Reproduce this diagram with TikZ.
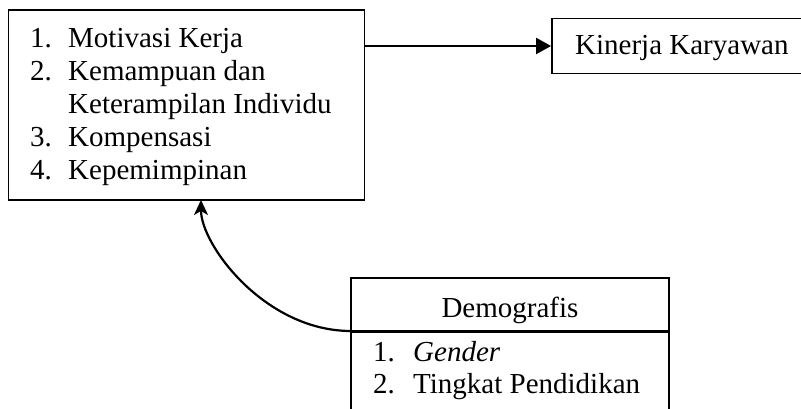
\documentclass[tikz,border=0pt]{standalone}
\usepackage{fontspec}
\setmainfont{Liberation Serif}
\usetikzlibrary{arrows.meta}
\begin{document}
\begin{tikzpicture}[x=1pt,y=-1pt,
  box/.style={draw, line width=1.8pt, inner sep=0pt},
  txt/.style={anchor=base west, inner sep=0pt, font=\fontsize{29}{33}\selectfont},
  ctxt/.style={anchor=base, inner sep=0pt, font=\fontsize{29}{33}\selectfont},
  conn/.style={line width=2.2pt}]
\useasboundingbox (0,0) rectangle (801,409);
% left box
\node[box, minimum width=356pt, minimum height=190pt] (left) at (186.5,105) {};
\node[txt] (n1) at (30,48) {1.};
\node[txt] (t1) at (68,48) {Motivasi Kerja};
\node[txt] (n2) at (30,81) {2.};
\node[txt] (t2) at (68,81) {Kemampuan dan};
\node[txt] (t2b) at (68,114) {Keterampilan Individu};
\node[txt] (n3) at (30,147) {3.};
\node[txt] (t3) at (68,147) {Kompensasi};
\node[txt] (n4) at (30,180) {4.};
\node[txt] (t4) at (68,180) {Kepemimpinan};
% Kinerja box
\node[box, minimum width=250pt, minimum height=55pt] (kin) at (677,46) {};
\node[txt] (kt) at (575,55) {Kinerja Karyawan};
% Demografis box
\node[box, minimum width=318pt, minimum height=142pt] (demo) at (510,349) {};
\node[ctxt] (dt) at (510,317) {Demografis};
\coordinate (divl) at (351,331);
\coordinate (divr) at (669,331);
\draw[line width=3pt] (divl) -- (divr);
\node[txt] (d1) at (373,361) {1.};
\node[txt] (g1) at (413,361) {\itshape Gender};
\node[txt] (d2) at (373,393) {2.};
\node[txt] (g2) at (413,393) {Tingkat Pendidikan};
% connectors
\draw[conn, -{Triangle[length=15pt,width=16pt]}] (left.east |- kin.west) -- (kin.west);
\coordinate (tip) at (201,200);
\draw[conn, -{Stealth[length=15pt,width=14pt,inset=4pt]}] (divl) .. controls (265,331) and (201,245) .. (tip);
\end{tikzpicture}
\end{document}
